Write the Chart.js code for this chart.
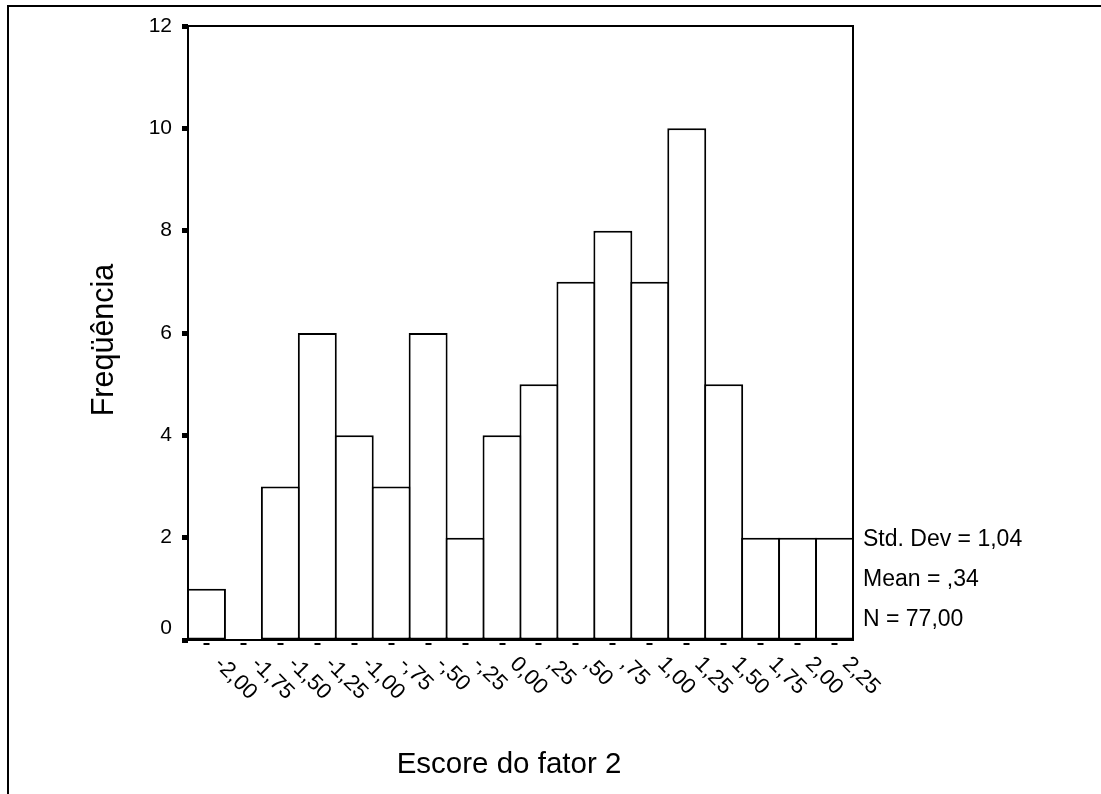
<!DOCTYPE html>
<html><head><meta charset="utf-8">
<script src="https://cdn.jsdelivr.net/npm/chart.js@4"></script>
<style>html,body{margin:0;padding:0;background:#fff}#wrap{width:1101px;height:794px}</style>
</head><body><div id="wrap"><canvas id="c" width="1101" height="794"></canvas></div>
<script>
const categories = ['-2,00','-1,75','-1,50','-1,25','-1,00','-,75','-,50','-,25','0,00',',25',',50',',75','1,00','1,25','1,50','1,75','2,00','2,25'];
const frequencies = [1,0,3,6,4,3,6,2,4,5,7,8,7,10,5,2,2,2];
const yTickValues = [0,2,4,6,8,10,12];
const statsLines = ['Std. Dev = 1,04','Mean = ,34','N = 77,00'];
const xTitle = 'Escore do fator 2';
const yTitle = 'Freqüência';
const FONT = '"Liberation Sans", Arial, sans-serif';

const decor = {
  id: 'decor',
  beforeDraw(chart) {
    const ctx = chart.ctx;
    ctx.save();
    ctx.fillStyle = '#fff';
    ctx.fillRect(0, 0, chart.width, chart.height);
    ctx.strokeStyle = '#000';
    ctx.lineWidth = 2;
    ctx.beginPath();
    ctx.moveTo(8, chart.height);
    ctx.lineTo(8, 6);
    ctx.lineTo(chart.width, 6);
    ctx.stroke();
    ctx.restore();
  },
  afterDraw(chart) {
    const {ctx, chartArea: a, scales: {x, y}} = chart;
    ctx.save();
    ctx.strokeStyle = '#000';
    ctx.lineWidth = 2;
    ctx.strokeRect(a.left, a.top, a.right - a.left, a.bottom - a.top);
    ctx.fillStyle = '#000';
    // y tick labels
    ctx.font = '21px ' + FONT;
    ctx.textAlign = 'right';
    ctx.textBaseline = 'middle';
    y.ticks.forEach(t => {
      let py = y.getPixelForValue(t.value);
      if (t.value === 0) py -= 12;
      ctx.fillText(String(t.value), a.left - 16, py);
    });
    // x tick labels, rotated clockwise
    ctx.font = '22px ' + FONT;
    ctx.textAlign = 'left';
    ctx.textBaseline = 'alphabetic';
    categories.forEach((lab, i) => {
      const px = x.getPixelForTick(i);
      ctx.save();
      ctx.translate(px + 7, a.bottom + 25);
      ctx.rotate(Math.PI / 4);
      ctx.fillText(lab, 0, 0);
      ctx.restore();
    });
    // stats
    ctx.font = '23px ' + FONT;
    ctx.textBaseline = 'middle';
    const y2 = y.getPixelForValue(2);
    statsLines.forEach((s, i) => ctx.fillText(s, a.right + 10, y2 + 2 + i * 40));
    // titles
    ctx.textAlign = 'center';
    ctx.textBaseline = 'alphabetic';
    ctx.font = '29.5px ' + FONT;
    ctx.fillText(xTitle, 509, 773);
    ctx.font = '30.5px ' + FONT;
    ctx.save();
    ctx.translate(113, 340);
    ctx.rotate(-Math.PI / 2);
    ctx.fillText(yTitle, 0, 0);
    ctx.restore();
    ctx.restore();
  }
};

new Chart(document.getElementById('c'), {
  type: 'bar',
  data: {
    labels: categories,
    datasets: [{
      data: frequencies,
      backgroundColor: '#fff',
      borderColor: '#000',
      borderWidth: 2,
      borderSkipped: false,
      categoryPercentage: 1,
      barPercentage: 1.054
    }]
  },
  options: {
    responsive: false,
    animation: false,
    layout: {padding: {left: 0, top: 26, right: 248, bottom: 0}},
    plugins: {legend: {display: false}, tooltip: {enabled: false}},
    scales: {
      x: {
        offset: true,
        border: {display: false},
        grid: {display: true, drawOnChartArea: false, offset: false, drawTicks: true,
               tickLength: 5, tickWidth: 6, tickColor: '#000', tickBorderDash: [0, 3, 2, 100]},
        ticks: {display: false},
        afterFit(s) { s.height = 154; }
      },
      y: {
        min: 0, max: 12,
        border: {display: false},
        grid: {display: true, drawOnChartArea: false, drawTicks: true,
               tickLength: 6, tickWidth: 5, tickColor: '#000'},
        ticks: {display: false, stepSize: 2},
        afterBuildTicks(s) { s.ticks = yTickValues.map(v => ({value: v})); },
        afterFit(s) { s.width = 188; }
      }
    }
  },
  plugins: [decor]
});
</script>
</body></html>
